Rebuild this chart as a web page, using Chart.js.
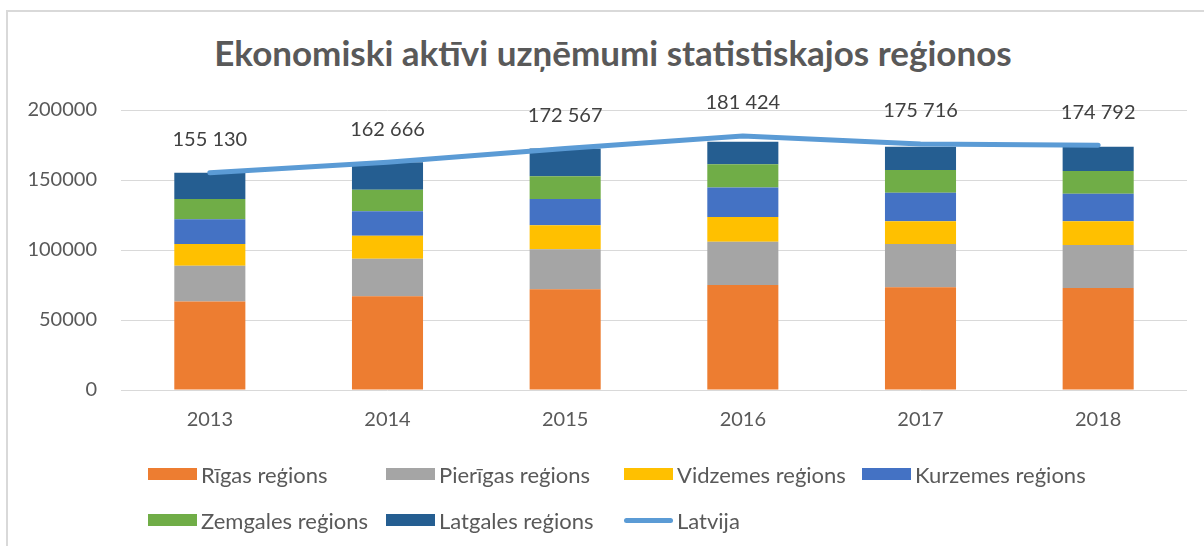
<!DOCTYPE html>
<html>
<head>
<meta charset="utf-8">
<script src="https://cdn.jsdelivr.net/npm/chart.js@4/dist/chart.umd.min.js"></script>
<style>
  html, body { margin: 0; padding: 0; background: #fff; }
  body { width: 1204px; height: 546px; position: relative; overflow: hidden; font-family: Lato, sans-serif; }
  #frame { position: absolute; left: 6px; top: 10px; width: 1200px; height: 540px;
           border-top: 2px solid #d9d9d9; border-left: 2px solid #d9d9d9; }
  #title { position: absolute; left: 0; width: 1226px; top: 31px; text-align: center;
           font: bold 35px Lato, sans-serif; color: #595959; }
  #chart-wrap { position: absolute; left: 0; top: 0; width: 1204px; height: 546px; }
  #legend { position: absolute; left: 148px; top: 451px; display: grid;
            grid-template-columns: repeat(4, 238px); grid-auto-rows: 46px; }
  .item { display: flex; align-items: center; font-size: 22px; color: #595959; white-space: nowrap; }
  .swatch { width: 49px; height: 12px; margin-right: 4px; flex: none; }
  .swatch.line { height: 5px; border-radius: 3px; }
</style>
</head>
<body>
<div id="frame"></div>
<div id="title">Ekonomiski aktīvi uzņēmumi statistiskajos reģionos</div>
<div id="chart-wrap"><canvas id="chart" width="1204" height="546"></canvas></div>
<div id="legend"></div>
<script>
// years on the x axis
const years = ['2013', '2014', '2015', '2016', '2017', '2018'];

// active companies per region
const riga     = [63300, 66900, 71900, 75000, 73400, 72900];
const pieriga  = [25500, 26900, 28600, 30900, 30900, 30700];
const vidzeme  = [15500, 16400, 17100, 17600, 16200, 16900];
const kurzeme  = [17600, 17400, 18800, 21200, 20400, 19700];
const zemgale  = [14500, 15500, 16200, 16600, 16200, 16200];
const latgale  = [18700, 19600, 19900, 16000, 16700, 17400];

// total for Latvia (line with labels)
const latvija  = [155130, 162666, 172567, 181424, 175716, 174792];

const yTicks = [0, 50000, 100000, 150000, 200000];

const regionNames = ['Rīgas reģions', 'Pierīgas reģions', 'Vidzemes reģions', 'Kurzemes reģions', 'Zemgales reģions', 'Latgales reģions'];
const regionData = [riga, pieriga, vidzeme, kurzeme, zemgale, latgale];
const regionColors = ['#ED7D31', '#A5A5A5', '#FFC000', '#4472C4', '#70AD47', '#255E91'];
const lineColor = '#5B9BD5';

const datasets = regionNames.map((name, i) => ({
    type: 'bar',
    label: name,
    data: regionData[i],
    backgroundColor: regionColors[i],
    borderWidth: 0,
    barPercentage: 0.4,
    categoryPercentage: 1,
    order: 1
}));
datasets.push({
    type: 'line',
    label: 'Latvija',
    data: latvija,
    borderColor: lineColor,
    borderWidth: 5,
    borderCapStyle: 'round',
    borderJoinStyle: 'round',
    pointRadius: 0,
    tension: 0,
    fill: false,
    order: 0
});

// draws "155 130" style labels above the line points
const lineLabels = {
    id: 'lineLabels',
    afterDatasetsDraw(chart) {
        const idx = chart.data.datasets.length - 1;
        const meta = chart.getDatasetMeta(idx);
        const ctx = chart.ctx;
        ctx.save();
        ctx.font = '20px Lato, sans-serif';
        ctx.fillStyle = '#404040';
        ctx.textAlign = 'center';
        ctx.textBaseline = 'middle';
        meta.data.forEach((pt, i) => {
            const txt = String(latvija[i]).replace(/\B(?=(\d{3})+(?!\d))/g, ' ');
            ctx.fillText(txt, pt.x, pt.y - 33);
        });
        ctx.restore();
    }
};

new Chart(document.getElementById('chart'), {
    data: { labels: years, datasets: datasets },
    plugins: [lineLabels],
    options: {
        responsive: false,
        animation: false,
        layout: { padding: { top: 110, right: 17, left: 0, bottom: 0 } },
        plugins: {
            legend: { display: false },
            tooltip: { enabled: false }
        },
        scales: {
            x: {
                stacked: true,
                grid: { display: false, drawTicks: false },
                border: { display: false },
                ticks: { color: '#595959', font: { family: 'Lato', size: 20 }, padding: 18 },
                afterFit: s => { s.height = 156; }
            },
            y: {
                stacked: true,
                min: 0,
                max: 200000,
                afterBuildTicks: s => { s.ticks = yTicks.map(v => ({ value: v })); },
                grid: { color: '#d9d9d9', lineWidth: 1, drawTicks: false },
                border: { display: false },
                ticks: { color: '#595959', font: { family: 'Lato', size: 20 }, padding: 24,
                         callback: v => String(v) },
                afterFit: s => { s.width = 121; }
            }
        }
    }
});

// legend in Excel-like fixed columns
const legend = document.getElementById('legend');
regionNames.forEach((name, i) => {
    legend.insertAdjacentHTML('beforeend',
        `<div class="item"><span class="swatch" style="background:${regionColors[i]}"></span>${name}</div>`);
});
legend.insertAdjacentHTML('beforeend',
    `<div class="item"><span class="swatch line" style="background:${lineColor}"></span>Latvija</div>`);
</script>
</body>
</html>
